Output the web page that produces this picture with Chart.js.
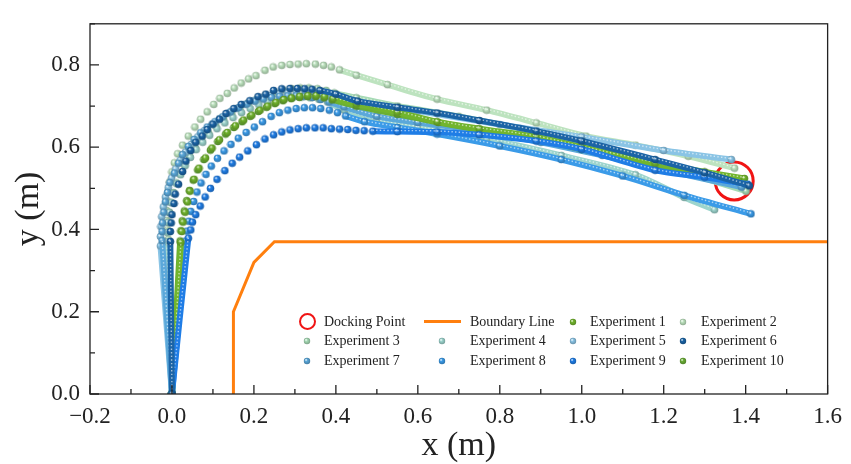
<!DOCTYPE html>
<html>
<head>
<meta charset="utf-8">
<script src="https://cdn.jsdelivr.net/npm/chart.js@4.4.1/dist/chart.umd.min.js"></script>
<style>
  body { margin: 0; background: #fff; }
  #wrap { position: relative; width: 851px; height: 464px; }
  #legend {
    position: absolute; left: 290px; top: 312px; display: grid;
    grid-template-columns: 34px 90px 56px 86px 34px 75px 36px auto;
    grid-auto-rows: 19.5px;
    font: 14px "Liberation Serif", serif; color: #222;
  }
  #legend .mk { display: flex; align-items: center; justify-content: center; }
  #legend .tx { display: flex; align-items: center; white-space: nowrap; }
</style>
</head>
<body>
<div id="wrap">
  <canvas id="myChart" width="851" height="464"></canvas>
  <div id="legend"></div>
</div>
<script>
// trajectories, metres: [x, y]
const expNames = ['Experiment 1', 'Experiment 2', 'Experiment 3', 'Experiment 4', 'Experiment 5',
                  'Experiment 6', 'Experiment 7', 'Experiment 8', 'Experiment 9', 'Experiment 10'];
const expColors = ['#72b52e', '#bde3bf', '#a6dab5', '#9cd4cd', '#8ac4e5',
                   '#1b64a6', '#5ba8da', '#3b9be8', '#1f7de6', '#6aae36'];

const exp1 = [[0,0],[0.022,0.369],[0.024,0.395],[0.027,0.418],[0.032,0.442],[0.038,0.467],[0.044,0.493],
  [0.054,0.522],[0.066,0.549],[0.082,0.574],[0.098,0.598],[0.116,0.618],[0.135,0.636],[0.155,0.652],
  [0.175,0.666],[0.195,0.678],[0.215,0.690],[0.234,0.700],[0.254,0.709],[0.273,0.716],[0.292,0.720],
  [0.312,0.724],[0.332,0.726],[0.352,0.726],[0.373,0.723],[0.393,0.718],
  [0.45,0.705],[0.55,0.685],[0.647,0.662],[0.75,0.645],[0.889,0.625],[1.0,0.60],[1.179,0.561],[1.30,0.54],[1.397,0.524]];
const exp2 = [[0,0],[-0.009,0.376],[-0.011,0.399],[-0.013,0.422],[-0.013,0.446],[-0.011,0.469],[-0.009,0.493],
  [-0.005,0.516],[0.0,0.540],[0.006,0.562],[0.014,0.584],[0.026,0.605],[0.040,0.627],[0.056,0.649],[0.070,0.668],
  [0.086,0.686],[0.102,0.704],[0.117,0.719],[0.135,0.731],[0.152,0.744],[0.169,0.756],[0.187,0.766],[0.205,0.774],
  [0.227,0.787],[0.247,0.795],[0.268,0.799],[0.288,0.801],[0.308,0.802],[0.328,0.803],[0.350,0.802],[0.370,0.799],
  [0.389,0.795],[0.409,0.788],
  [0.45,0.775],[0.526,0.752],[0.647,0.717],[0.768,0.690],[0.889,0.659],[1.010,0.627],[1.131,0.605],[1.260,0.578],[1.373,0.549]];
const exp3 = [[0,0],[-0.008,0.37],[-0.009,0.394],[-0.008,0.418],[-0.006,0.442],[-0.002,0.466],[0.004,0.490],
  [0.011,0.513],[0.020,0.535],[0.031,0.557],[0.043,0.578],[0.057,0.598],[0.072,0.617],[0.089,0.635],[0.107,0.652],
  [0.126,0.668],[0.146,0.683],[0.166,0.696],[0.187,0.708],[0.208,0.718],[0.229,0.727],[0.250,0.734],[0.271,0.739],
  [0.292,0.742],[0.313,0.744],[0.334,0.744],[0.355,0.742],[0.376,0.738],[0.396,0.732],
  [0.45,0.72],[0.55,0.70],[0.7,0.675],[0.85,0.645],[1.0,0.61],[1.15,0.57],[1.28,0.53],[1.401,0.493]];
const exp4 = [[0,0],[-0.012,0.37],[-0.012,0.393],[-0.010,0.417],[-0.007,0.441],[-0.002,0.465],[0.004,0.488],
  [0.012,0.511],[0.021,0.533],[0.032,0.555],[0.045,0.575],[0.059,0.594],[0.075,0.612],[0.092,0.629],[0.110,0.645],
  [0.129,0.659],[0.149,0.672],[0.170,0.684],[0.191,0.694],[0.212,0.703],[0.233,0.710],[0.254,0.716],[0.275,0.720],
  [0.296,0.722],[0.317,0.722],[0.338,0.720],[0.359,0.716],[0.380,0.710],
  [0.421,0.690],[0.5,0.665],[0.6,0.648],[0.768,0.620],[0.95,0.58],[1.131,0.533],[1.25,0.478],[1.324,0.448]];
const exp5 = [[0,0],[-0.028,0.36],[-0.028,0.383],[-0.027,0.407],[-0.025,0.431],[-0.021,0.455],[-0.016,0.479],
  [-0.009,0.502],[-0.001,0.525],[0.009,0.547],[0.020,0.568],[0.033,0.588],[0.047,0.607],[0.063,0.625],[0.080,0.641],
  [0.098,0.656],[0.117,0.670],[0.137,0.683],[0.157,0.694],[0.178,0.704],[0.199,0.713],[0.220,0.720],[0.241,0.726],
  [0.262,0.730],[0.283,0.733],[0.304,0.734],[0.325,0.734],[0.346,0.732],[0.367,0.728],
  [0.45,0.712],[0.6,0.688],[0.8,0.655],[1.0,0.625],[1.2,0.592],[1.365,0.570]];
const exp6 = [[0,0],[-0.004,0.371],[-0.004,0.395],[-0.002,0.416],[0.000,0.436],[0.005,0.463],[0.008,0.486],
  [0.016,0.510],[0.026,0.541],[0.034,0.566],[0.046,0.592],[0.058,0.612],[0.074,0.627],[0.086,0.643],[0.100,0.656],
  [0.116,0.668],[0.132,0.682],[0.151,0.694],[0.169,0.704],[0.190,0.713],[0.210,0.723],[0.229,0.729],[0.248,0.738],
  [0.268,0.742],[0.288,0.743],[0.306,0.743],[0.324,0.742],[0.342,0.741],[0.361,0.738],
  [0.40,0.729],[0.453,0.712],[0.55,0.697],[0.647,0.683],[0.75,0.665],[0.889,0.639],[1.0,0.615],[1.179,0.570],[1.30,0.538],[1.409,0.506]];
const exp7 = [[0,0],[-0.024,0.373],[-0.024,0.395],[-0.023,0.416],[-0.020,0.442],[-0.016,0.467],[-0.011,0.490],
  [-0.005,0.514],[0.006,0.537],[0.016,0.561],[0.026,0.582],[0.040,0.602],[0.054,0.619],[0.070,0.635],[0.086,0.649],
  [0.105,0.662],[0.124,0.674],[0.143,0.686],[0.163,0.696],[0.183,0.705],[0.203,0.712],[0.223,0.717],[0.243,0.721],
  [0.263,0.724],[0.283,0.725],[0.303,0.725],[0.323,0.724],[0.343,0.721],[0.363,0.716],[0.383,0.710],
  [0.42,0.698],[0.5,0.675],[0.6,0.66],[0.75,0.64],[0.9,0.612],[1.05,0.58],[1.2,0.545],[1.39,0.503]];
const exp8 = [[0,0],[0.034,0.372],[0.037,0.396],[0.041,0.420],[0.046,0.444],[0.053,0.468],[0.061,0.491],
  [0.071,0.513],[0.083,0.534],[0.096,0.554],[0.111,0.573],[0.127,0.591],[0.144,0.607],[0.162,0.622],[0.181,0.636],
  [0.201,0.649],[0.221,0.662],[0.242,0.675],[0.262,0.684],[0.283,0.690],[0.303,0.694],[0.323,0.696],[0.343,0.696],
  [0.363,0.694],[0.384,0.690],[0.404,0.684],[0.424,0.676],
  [0.47,0.662],[0.55,0.648],[0.647,0.632],[0.8,0.603],[0.95,0.57],[1.1,0.53],[1.25,0.483],[1.413,0.438]];
const exp9 = [[0,0],[0.040,0.379],[0.046,0.399],[0.050,0.418],[0.058,0.436],[0.069,0.457],[0.081,0.479],
  [0.094,0.500],[0.110,0.522],[0.129,0.543],[0.147,0.561],[0.165,0.576],[0.185,0.591],[0.206,0.606],[0.227,0.620],
  [0.248,0.630],[0.268,0.637],[0.288,0.642],[0.308,0.645],[0.328,0.647],[0.349,0.647],[0.369,0.647],[0.389,0.645],
  [0.409,0.644],[0.429,0.643],[0.449,0.641],[0.469,0.640],[0.490,0.639],
  [0.55,0.638],[0.647,0.637],[0.75,0.63],[0.889,0.615],[1.0,0.595],[1.179,0.544],[1.30,0.527],[1.405,0.51]];
const exp10 = [[0,0],[0.020,0.372],[0.022,0.397],[0.025,0.421],[0.030,0.445],[0.036,0.470],[0.043,0.495],
  [0.052,0.520],[0.063,0.545],[0.078,0.570],[0.094,0.593],[0.112,0.614],[0.131,0.632],[0.151,0.648],[0.171,0.662],
  [0.191,0.675],[0.211,0.687],[0.231,0.697],[0.251,0.706],[0.271,0.713],[0.291,0.718],[0.311,0.721],[0.331,0.723],
  [0.351,0.723],[0.371,0.720],[0.391,0.715],
  [0.45,0.700],[0.55,0.680],[0.65,0.660],[0.75,0.643],[0.889,0.620],[1.0,0.595],[1.179,0.556],[1.30,0.532],[1.392,0.516]];

const dockingPoint = [[1.372, 0.518]];
const boundaryX = [0.15, 0.15, 0.2, 0.25, 1.6];
const boundaryY = [0, 0.2, 0.32, 0.37, 0.37];

const xTickLabels = [-0.2, 0.0, 0.2, 0.4, 0.6, 0.8, 1.0, 1.2, 1.4, 1.6];
const yTickLabels = [0.0, 0.2, 0.4, 0.6, 0.8];

const legendOrder = ['Docking Point', 'Boundary Line', 'Experiment 1', 'Experiment 2', 'Experiment 3', 'Experiment 4',
                     'Experiment 5', 'Experiment 6', 'Experiment 7', 'Experiment 8', 'Experiment 9', 'Experiment 10'];

const expData = [exp1, exp2, exp3, exp4, exp5, exp6, exp7, exp8, exp9, exp10];
// which track sits on top of which (higher = further back)
const expOrder = [5, 12, 11, 10, 9, 3, 8, 6, 4, 7];

function shade(hex, f) {
    const n = parseInt(hex.slice(1), 16);
    const c = [n >> 16, (n >> 8) & 255, n & 255].map(v => Math.round(v * (1 + f)));
    return 'rgb(' + c.join(',') + ')';
}

function makeBall(color, r) {
    const size = Math.ceil(r * 2 + 1);
    const cv = document.createElement('canvas');
    cv.width = size; cv.height = size;
    const g = cv.getContext('2d');
    const c = size / 2;
    const grad = g.createRadialGradient(c - r * 0.35, c - r * 0.4, r * 0.05, c, c, r);
    grad.addColorStop(0, 'rgba(255,255,255,0.95)');
    grad.addColorStop(0.35, color);
    grad.addColorStop(1, shade(color, -0.25));
    g.fillStyle = grad;
    g.beginPath(); g.arc(c, c, r, 0, Math.PI * 2); g.fill();
    return cv;
}

// a step longer than this is a densely sampled stretch -> drawn as a solid band
function isDense(pts, i, j) {
    return Math.hypot(pts[j][0] - pts[i][0], pts[j][1] - pts[i][1]) > 0.035;
}

const isMajor = (list, v) => list.some(l => Math.abs(l - v) < 1e-6);
const fmt = v => (v < -1e-9 ? '\u2212' : '') + Math.abs(v).toFixed(1);

const datasets = [];
datasets.push({
    label: 'Docking Point',
    data: dockingPoint.map(p => ({x: p[0], y: p[1]})),
    showLine: false,
    pointRadius: 19,
    pointBorderWidth: 3,
    pointBorderColor: '#f01414',
    pointBackgroundColor: 'rgba(0,0,0,0)',
    order: 30
});
datasets.push({
    label: 'Boundary Line',
    data: boundaryX.map((x, i) => ({x, y: boundaryY[i]})),
    showLine: true,
    borderColor: '#ff7f0e',
    borderWidth: 3,
    pointRadius: 0,
    tension: 0,
    order: 29
});
expData.forEach((pts, k) => {
    const color = expColors[k];
    datasets.push({
        label: expNames[k],
        data: pts.map(p => ({x: p[0], y: p[1]})),
        track: pts,
        showLine: true,
        borderColor: color,
        borderWidth: 6,
        borderCapStyle: 'round',
        tension: 0.3,
        segment: {
            borderColor: c => isDense(pts, c.p0DataIndex, c.p1DataIndex) ? color : 'rgba(0,0,0,0)'
        },
        pointStyle: makeBall(color, 3.8),
        pointRadius: 3.8,
        order: expOrder[k]
    });
});

const trackShine = {
    id: 'trackShine',
    afterDatasetDraw(chart, args) {
        const ds = chart.data.datasets[args.index];
        if (!ds.track) return;
        const pts = args.meta.data;
        const a = chart.chartArea;
        const ctx = chart.ctx;
        ctx.save();
        ctx.beginPath();
        ctx.rect(a.left, a.top, a.right - a.left, a.bottom - a.top);
        ctx.clip();
        ctx.strokeStyle = 'rgba(255,255,255,0.6)';
        ctx.lineWidth = 1.4;
        ctx.setLineDash([1.4, 2.2]);
        ctx.beginPath();
        for (let i = 0; i < pts.length - 1; i++) {
            if (!isDense(ds.track, i, i + 1)) continue;
            const p0 = pts[i], p1 = pts[i + 1];
            ctx.moveTo(p0.x, p0.y - 1);
            if (p0.cp2x !== undefined && p1.cp1x !== undefined) {
                ctx.bezierCurveTo(p0.cp2x, p0.cp2y - 1, p1.cp1x, p1.cp1y - 1, p1.x, p1.y - 1);
            } else {
                ctx.lineTo(p1.x, p1.y - 1);
            }
        }
        ctx.stroke();
        ctx.restore();
    }
};

const frameTicks = {
    id: 'frameTicks',
    afterDraw(chart) {
        const {ctx, chartArea: a, scales: {x, y}} = chart;
        ctx.save();
        ctx.strokeStyle = '#222';
        ctx.lineWidth = 1.3;
        ctx.strokeRect(a.left, a.top, a.right - a.left, a.bottom - a.top);
        ctx.beginPath();
        x.ticks.forEach(t => {
            const px = x.getPixelForValue(t.value);
            const len = isMajor(xTickLabels, t.value) ? 9 : 5;
            ctx.moveTo(px, a.bottom);
            ctx.lineTo(px, a.bottom - len);
        });
        y.ticks.forEach(t => {
            const py = y.getPixelForValue(t.value);
            const len = isMajor(yTickLabels, t.value) ? 9 : 5;
            ctx.moveTo(a.left, py);
            ctx.lineTo(a.left + len, py);
        });
        ctx.stroke();
        ctx.restore();
    }
};

Chart.defaults.font.family = '"Liberation Serif", serif';
Chart.defaults.color = '#222';

const myChart = new Chart(document.getElementById('myChart'), {
    type: 'scatter',
    data: {datasets},
    options: {
        responsive: false,
        animation: false,
        events: [],
        layout: {padding: {top: 10, right: 17, bottom: 0, left: 0}},
        plugins: {legend: {display: false}, tooltip: {enabled: false}},
        scales: {
            x: {
                type: 'linear',
                min: -0.2, max: 1.6,
                afterFit: s => { s.height = 70; },
                grid: {display: false, drawTicks: false},
                border: {display: false},
                ticks: {
                    stepSize: 0.1, autoSkip: false, maxRotation: 0, minRotation: 0,
                    padding: 9, font: {size: 23},
                    callback: v => isMajor(xTickLabels, v) ? fmt(v) : ''
                },
                title: {display: true, text: 'x (m)', font: {size: 34, lineHeight: 1}, padding: {top: 0, bottom: 1}}
            },
            y: {
                type: 'linear',
                min: 0, max: 0.9,
                afterFit: s => { s.width = 90; },
                grid: {display: false, drawTicks: false},
                border: {display: false},
                ticks: {
                    stepSize: 0.1, autoSkip: false,
                    padding: 10, font: {size: 23},
                    callback: v => isMajor(yTickLabels, v) ? fmt(v) : ''
                },
                title: {display: true, text: 'y (m)', font: {size: 34, lineHeight: 1}, padding: {top: 12, bottom: 0}}
            }
        }
    },
    plugins: [trackShine, frameTicks]
});

// legend laid out in four columns inside the plot, like the figure
const legendBox = document.getElementById('legend');
legendOrder.forEach(name => {
    const ds = myChart.data.datasets.find(d => d.label === name);
    const mk = document.createElement('div');
    mk.className = 'mk';
    if (name === 'Docking Point') {
        const ring = document.createElement('div');
        ring.style.cssText = 'width:13px;height:13px;border:2.2px solid ' + ds.pointBorderColor + ';border-radius:50%';
        mk.appendChild(ring);
    } else if (name === 'Boundary Line') {
        const bar = document.createElement('div');
        bar.style.cssText = 'width:37px;height:3px;background:' + ds.borderColor;
        mk.appendChild(bar);
    } else {
        mk.appendChild(makeBall(ds.borderColor, 3.2));
    }
    const tx = document.createElement('div');
    tx.className = 'tx';
    tx.textContent = name;
    legendBox.appendChild(mk);
    legendBox.appendChild(tx);
});
</script>
</body>
</html>
